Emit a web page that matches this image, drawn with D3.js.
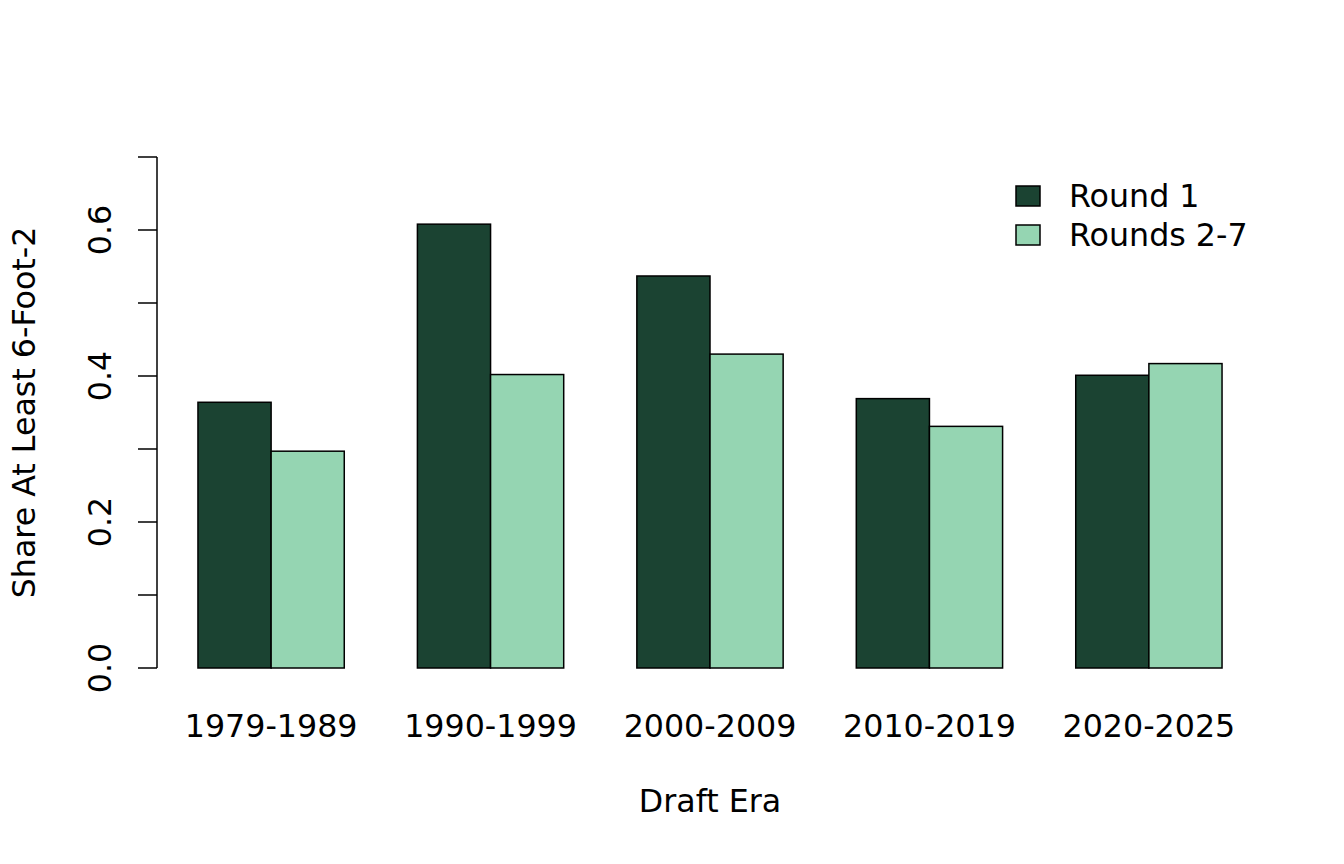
<!DOCTYPE html>
<html><head><meta charset="utf-8">
<script src="https://cdn.jsdelivr.net/npm/d3@7"></script>
<style>body{margin:0;background:#fff}svg{display:block}text{font-family:"DejaVu Sans",sans-serif;fill:#000}</style>
</head><body>
<script>
const eras = ["1979-1989","1990-1999","2000-2009","2010-2019","2020-2025"];
const series = ["Round 1","Rounds 2-7"];
const round1 = [0.364, 0.608, 0.537, 0.369, 0.401];
const rounds27 = [0.297, 0.402, 0.430, 0.331, 0.417];
const colors = ["#1b4332","#95d5b2"];
const yTicks = [0, 0.1, 0.2, 0.3, 0.4, 0.5, 0.6, 0.7];
const yLabels = [0, 0.2, 0.4, 0.6];

const W = 1344, H = 864;
const svg = d3.select("body").append("svg").attr("width", W).attr("height", H);
const fs = 31.7;
// plot region
const L = 157, R = 1263, T = 157, B = 668;
// R barplot units: xlim [0.44, 15.56]
const x = d3.scaleLinear().domain([0.44, 15.56]).range([L, R]);
const y = d3.scaleLinear().domain([0, 0.7]).range([B, T]);

const vals = [round1, rounds27];
eras.forEach((e, i) => {
  const g0 = 1 + i * 3;
  vals.forEach((s, j) => {
    const x0 = x(g0 + j), x1 = x(g0 + j + 1);
    svg.append("rect").attr("x", x0).attr("y", y(s[i]))
      .attr("width", x1 - x0).attr("height", y(0) - y(s[i]))
      .attr("fill", colors[j]).attr("stroke", "#000").attr("stroke-width", 1.5);
  });
  svg.append("text").attr("x", x(g0 + 1)).attr("y", 737)
    .attr("text-anchor", "middle").attr("font-size", fs).text(e);
});

// y axis
svg.append("line").attr("x1", L).attr("x2", L).attr("y1", y(0)).attr("y2", y(0.7))
  .attr("stroke", "#000").attr("stroke-width", 1.5);
yTicks.forEach(t => {
  svg.append("line").attr("x1", L - 19).attr("x2", L).attr("y1", y(t)).attr("y2", y(t))
    .attr("stroke", "#000").attr("stroke-width", 1.5);
});
yLabels.forEach(t => {
  svg.append("text").attr("transform", `translate(111,${y(t)}) rotate(-90)`)
    .attr("text-anchor", "middle").attr("font-size", fs).text(t.toFixed(1));
});

svg.append("text").attr("transform", `translate(35,${(T + B) / 2}) rotate(-90)`)
  .attr("text-anchor", "middle").attr("font-size", fs).text("Share At Least 6-Foot-2");
svg.append("text").attr("x", (L + R) / 2).attr("y", 812)
  .attr("text-anchor", "middle").attr("font-size", fs).text("Draft Era");

// legend
series.forEach((s, j) => {
  const cy = 196 + j * 39;
  svg.append("rect").attr("x", 1016).attr("y", cy - 10).attr("width", 24).attr("height", 20)
    .attr("fill", colors[j]).attr("stroke", "#000").attr("stroke-width", 1.5);
  svg.append("text").attr("x", 1069).attr("y", cy + 11).attr("font-size", fs).text(s);
});
</script>
</body></html>
